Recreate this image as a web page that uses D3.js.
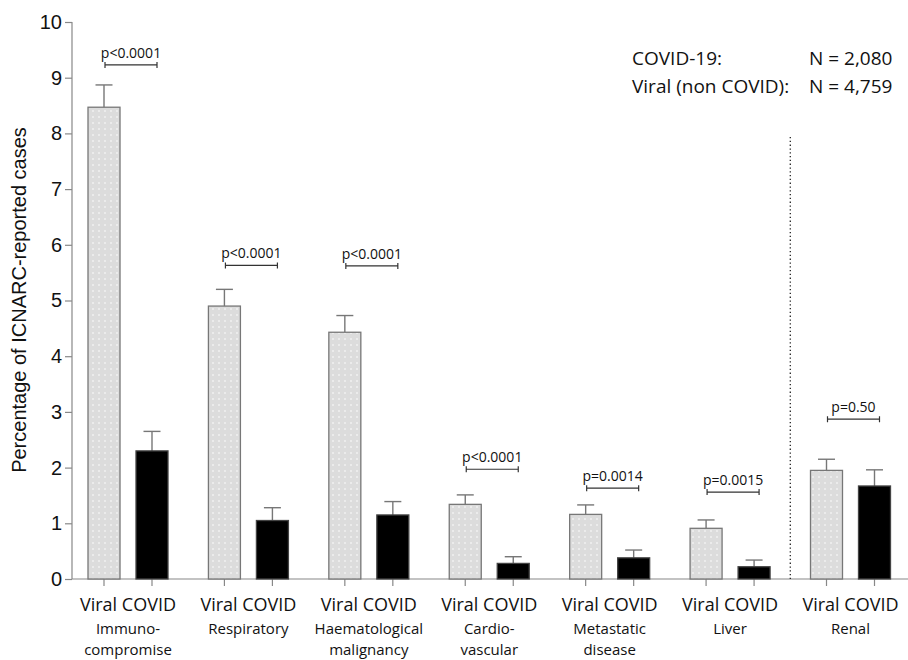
<!DOCTYPE html>
<html>
<head>
<meta charset="utf-8">
<script src="https://cdn.jsdelivr.net/npm/d3@7"></script>
<style>
  body { margin: 0; background: #fff; }
  svg { display: block; }
  .lbl { font-family: "Open Sans", Lato, sans-serif; fill: #111; }
  .tick text { font-family: "Liberation Sans", Arial, sans-serif; font-size: 20px; fill: #111; }
</style>
</head>
<body>
<svg id="chart" width="908" height="660"></svg>
<script>
// Chart data
var groups = ['Immuno-\ncompromise', 'Respiratory', 'Haematological\nmalignancy', 'Cardio-\nvascular', 'Metastatic\ndisease', 'Liver', 'Renal'];
var viralValues = [8.47, 4.9, 4.43, 1.34, 1.16, 0.91, 1.95];
var viralErrors = [8.87, 5.2, 4.73, 1.51, 1.33, 1.06, 2.15];
var covidValues = [2.3, 1.05, 1.15, 0.28, 0.38, 0.22, 1.67];
var covidErrors = [2.65, 1.28, 1.39, 0.4, 0.52, 0.34, 1.96];
var pLabels = ['p<0.0001', 'p<0.0001', 'p<0.0001', 'p<0.0001', 'p=0.0014', 'p=0.0015', 'p=0.50'];
var pLevels = [9.23, 5.63, 5.62, 1.97, 1.63, 1.56, 2.87];
var yTicks = [0, 1, 2, 3, 4, 5, 6, 7, 8, 9, 10];

var svg = d3.select('#chart');

// Scales
var y = d3.scaleLinear().domain([0, 10]).range([579, 22]);
var x = d3.scalePoint().domain(groups).range([128, 850.5]);
var offset = 24;
var barWidth = 32;

// dotted fill for the viral bars
var pattern = svg.append('defs').append('pattern')
    .attr('id', 'dots')
    .attr('patternUnits', 'userSpaceOnUse')
    .attr('width', 6)
    .attr('height', 6);
pattern.append('rect').attr('width', 6).attr('height', 6).attr('fill', '#dcdcdc');
pattern.append('circle').attr('cx', 3).attr('cy', 3).attr('r', 0.8).attr('fill', '#fff');

// Y axis
var yAxis = svg.append('g')
    .attr('transform', 'translate(72,0)')
    .call(d3.axisLeft(y).tickValues(yTicks).tickSize(7).tickPadding(3));
yAxis.selectAll('line, path').attr('stroke', '#888').attr('stroke-width', 1.2);
yAxis.select('.domain').attr('d', 'M0,' + y(10) + 'V' + y(0));

svg.append('text')
    .attr('transform', 'translate(26,300) rotate(-90)')
    .attr('text-anchor', 'middle')
    .style('font-family', '"Liberation Sans", Arial, sans-serif')
    .style('font-size', '20px')
    .attr('fill', '#111')
    .text('Percentage of ICNARC-reported cases');

// X axis line
svg.append('line')
    .attr('x1', 72).attr('x2', 908)
    .attr('y1', y(0)).attr('y2', y(0))
    .attr('stroke', '#888').attr('stroke-width', 1.2);

// Separator before Renal
var sepX = (x(groups[5]) + x(groups[6])) / 2;
svg.append('line')
    .attr('x1', sepX).attr('x2', sepX)
    .attr('y1', 137).attr('y2', y(0))
    .attr('stroke', '#222').attr('stroke-width', 1.3)
    .attr('stroke-dasharray', '1.3,2.5');

var g = svg.selectAll('.group')
    .data(groups)
    .enter()
    .append('g')
    .attr('class', 'group');

// x ticks under each bar
[-offset, offset].forEach(function (o) {
    g.append('line')
        .attr('x1', (d) => x(d) + o).attr('x2', (d) => x(d) + o)
        .attr('y1', y(0)).attr('y2', y(0) + 7)
        .attr('stroke', '#888').attr('stroke-width', 1.2);
});

// error bars (upper only)
function errorBar(values, errors, o) {
    g.append('line')
        .attr('x1', (d) => x(d) + o).attr('x2', (d) => x(d) + o)
        .attr('y1', (d, i) => y(values[i])).attr('y2', (d, i) => y(errors[i]))
        .attr('stroke', '#777').attr('stroke-width', 1.4);
    g.append('line')
        .attr('x1', (d) => x(d) + o - 8.5).attr('x2', (d) => x(d) + o + 8.5)
        .attr('y1', (d, i) => y(errors[i])).attr('y2', (d, i) => y(errors[i]))
        .attr('stroke', '#777').attr('stroke-width', 1.4);
}
errorBar(viralValues, viralErrors, -offset);
errorBar(covidValues, covidErrors, offset);

// bars
g.append('rect')
    .attr('x', (d) => x(d) - offset - barWidth / 2)
    .attr('y', (d, i) => y(viralValues[i]))
    .attr('width', barWidth)
    .attr('height', (d, i) => y(0) - y(viralValues[i]))
    .attr('fill', 'url(#dots)')
    .attr('stroke', '#777').attr('stroke-width', 1.3);

g.append('rect')
    .attr('x', (d) => x(d) + offset - barWidth / 2)
    .attr('y', (d, i) => y(covidValues[i]))
    .attr('width', barWidth)
    .attr('height', (d, i) => y(0) - y(covidValues[i]))
    .attr('fill', '#000')
    .attr('stroke', '#444').attr('stroke-width', 1.3);

// significance brackets
g.append('path')
    .attr('d', function (d, i) {
        var x1 = x(d) - offset + 1, x2 = x(d) + offset + 5, yy = y(pLevels[i]);
        return 'M' + x1 + ',' + yy + 'H' + x2 +
            'M' + x1 + ',' + (yy - 3) + 'V' + (yy + 3) +
            'M' + x2 + ',' + (yy - 3) + 'V' + (yy + 3);
    })
    .attr('fill', 'none')
    .attr('stroke', '#333').attr('stroke-width', 1.2);

g.append('text')
    .attr('class', 'lbl')
    .attr('x', (d) => x(d) + 3)
    .attr('y', (d, i) => y(pLevels[i]) - 7)
    .attr('text-anchor', 'middle')
    .style('font-size', '14px')
    .text((d, i) => pLabels[i]);

// bar labels
g.append('text')
    .attr('class', 'lbl')
    .attr('x', (d) => x(d))
    .attr('y', 611)
    .attr('text-anchor', 'middle')
    .style('font-size', '18px')
    .text('Viral COVID');

// category names, one text per line
g.each(function (d) {
    d3.select(this).selectAll('.cat')
        .data(d.split('\n'))
        .enter()
        .append('text')
        .attr('class', 'lbl cat')
        .attr('x', x(d))
        .attr('y', (t, j) => 634 + j * 21)
        .attr('text-anchor', 'middle')
        .style('font-size', '15px')
        .text((t) => t);
});

// sample sizes
var legendRows = [['COVID-19:', 'N = 2,080'], ['Viral (non COVID):', 'N = 4,759']];
legendRows.forEach(function (row, i) {
    svg.append('text').attr('class', 'lbl')
        .attr('x', 632).attr('y', 65 + i * 28)
        .style('font-size', '19px')
        .text(row[0]);
    svg.append('text').attr('class', 'lbl')
        .attr('x', 809).attr('y', 65 + i * 28)
        .style('font-size', '19px')
        .text(row[1]);
});
</script>
</body>
</html>
